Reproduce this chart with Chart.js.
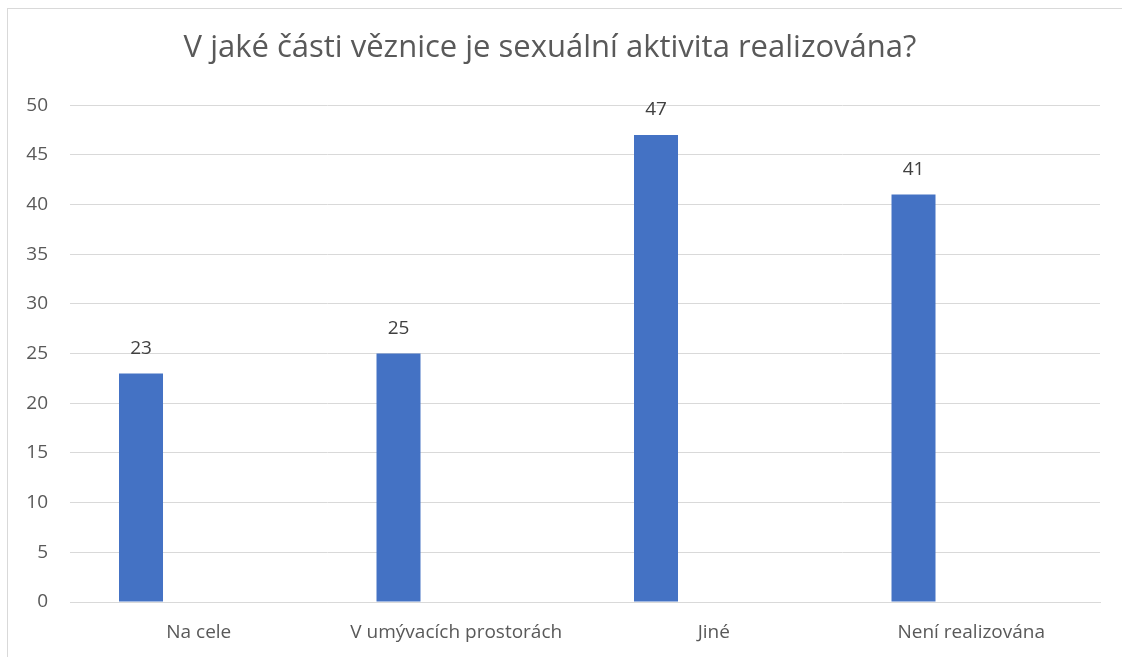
<!DOCTYPE html>
<html>
<head>
<meta charset="utf-8">
<script src="https://cdn.jsdelivr.net/npm/chart.js@4/dist/chart.umd.min.js"></script>
<style>
  body { margin: 0; background: #fff; }
  #frame {
    position: absolute; left: 7px; top: 8px; width: 1130px; height: 660px;
    border-left: 1px solid #d9d9d9; border-top: 1px solid #d9d9d9;
  }
  #wrap { position: absolute; left: 0; top: 0; width: 1122px; height: 657px; }
</style>
</head>
<body>
<div id="frame"></div>
<div id="wrap"><canvas id="chart"></canvas></div>
<script>
const chartTitle = "V jaké části věznice je sexuální aktivita realizována?";
const categories = ["Na cele", "V umývacích prostorách", "Jiné", "Není realizována"];
const answers = [23, 25, 47, 41];
// second (empty) series of the original sheet keeps the bars left of centre
const emptySeries = [null, null, null, null];
const yTicks = [0, 5, 10, 15, 20, 25, 30, 35, 40, 45, 50];

const FONT = "'Open Sans', sans-serif";
const TEXT = "#595959";

// value labels above bars
const valueLabels = {
    id: "valueLabels",
    afterDatasetsDraw(chart) {
        const ctx = chart.ctx;
        const meta = chart.getDatasetMeta(0);
        ctx.save();
        ctx.font = "19px " + FONT;
        ctx.fillStyle = "#404040";
        ctx.textAlign = "center";
        ctx.textBaseline = "middle";
        meta.data.forEach((bar, i) => {
            ctx.fillText(String(answers[i]), bar.x, bar.y - 25);
        });
        ctx.restore();
    }
};

const ctx = document.getElementById("chart").getContext("2d");
let myChart = new Chart(ctx, {
    type: "bar",
    data: {
        labels: categories,
        datasets: [{
            label: "Odpovědi",
            data: answers,
            backgroundColor: "#4472C4",
            borderWidth: 0,
        }, {
            label: "",
            data: emptySeries,
            backgroundColor: "#ED7D31",
        }],
    },
    options: {
        responsive: true,
        maintainAspectRatio: false,
        animation: false,
        categoryPercentage: 0.897,
        barPercentage: 0.381,
        layout: { padding: { left: 0, right: 22, top: 0, bottom: 0 } },
        plugins: {
            legend: { display: false },
            tooltip: { enabled: false },
            title: {
                display: true,
                text: chartTitle,
                color: TEXT,
                font: { family: FONT, size: 31, weight: "normal" },
                padding: { top: 30, bottom: 38 },
            },
        },
        scales: {
            x: {
                grid: { display: false, drawTicks: false },
                border: { color: "#d9d9d9" },
                ticks: { color: TEXT, font: { family: FONT, size: 19 }, padding: 19 },
                afterFit: (scale) => { scale.height = 55; },
            },
            y: {
                min: 0,
                max: 50,
                afterBuildTicks: (scale) => { scale.ticks = yTicks.map(v => ({ value: v })); },
                grid: { color: "#d9d9d9", drawTicks: false },
                border: { display: false },
                ticks: { color: TEXT, font: { family: FONT, size: 19 }, padding: 22 },
                afterFit: (scale) => { scale.width = 70; },
            },
        },
    },
    plugins: [valueLabels],
});
</script>
</body>
</html>
